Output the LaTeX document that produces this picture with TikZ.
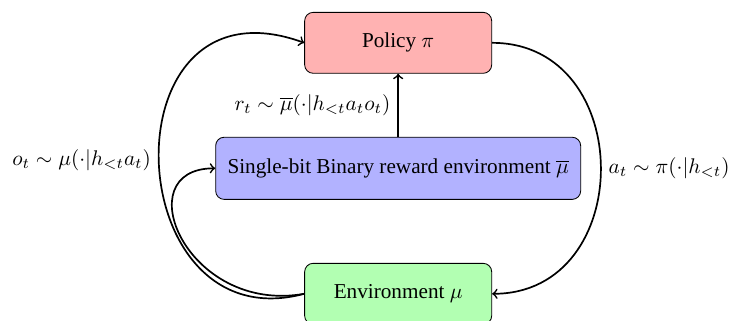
\documentclass[tikz,border=0pt]{standalone}
\usepackage{fontspec}
\setmainfont{Liberation Serif}
\usepackage{amsmath,amssymb}
\usepackage{tikz}
\usetikzlibrary{arrows,shapes,positioning}
\tikzstyle{block}=[draw,rounded corners,align=center,text=black,inner sep=2]
\tikzstyle{agent}=[block,fill=red!30,minimum width=3.1cm,minimum height=1.01cm]
\tikzstyle{bitenv}=[block,fill=blue!30,minimum width=6.05cm,minimum height=1.03cm]
\tikzstyle{realenv}=[block,fill=green!30,minimum width=3.1cm,minimum height=1.01cm]
\tikzstyle{flow} = [draw,thick,->,black]

\begin{document}
\begin{tikzpicture}
	\useasboundingbox (0,0) rectangle (12.15,-5.32);
	\node[agent] (po) at (6.6,-0.71) {Policy $\pi$};
	\node[bitenv] (rw) at (6.6,-2.79) {Single-bit Binary reward environment $\overline{\mu}$};
	\node[realenv] (en) at (6.6,-4.87) {Environment $\mu$};
	
	\draw[flow] (rw) -- 
	node [midway, left] {$r_t \sim \overline{\mu}(\cdot|h_{<t}a_to_t)$} (po) ;
	
	\draw[flow] (po.east) to [out=0,in=0,looseness=1.48]
	node [midway, right] {$a_t \sim \pi(\cdot|h_{<t})$} (en.east) ;
	
	\draw[flow] (en.west) to [out=195,in=160,out looseness=1.98,in looseness=2.18]
	node [midway, left] {$o_t \sim \mu(\cdot|h_{<t}a_t)$} (po.west) ;
	\draw[flow] (en.west) to [out=190,in=180,out looseness=1.99,in looseness=1.49] (rw.west) ;

\end{tikzpicture}
\end{document}
